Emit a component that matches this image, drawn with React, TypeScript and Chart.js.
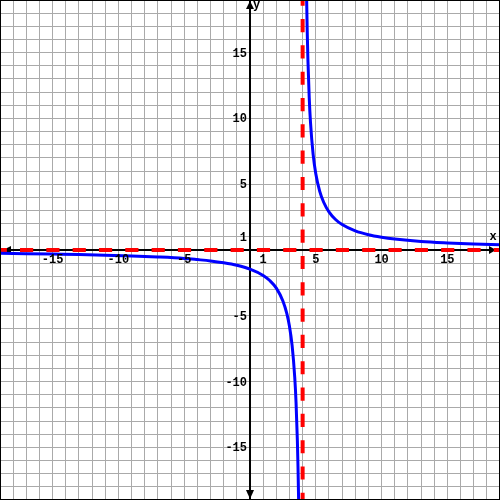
import React, { useEffect, useRef } from "react";
import { Chart, registerables } from "chart.js";

Chart.register(...registerables);

const X_MIN = -19;
const X_MAX = 19;
const Y_MIN = -19;
const Y_MAX = 19;

const leftX = [-19, -17, -15, -13, -11, -9, -7, -5, -4, -3, -2, -1, 0, 1, 1.5, 2, 2.5, 2.8, 3, 3.2, 3.4, 3.5, 3.6, 3.65, 3.7];
const leftY = [-0.25, -0.28, -0.31, -0.34, -0.39, -0.45, -0.53, -0.64, -0.73, -0.83, -0.97, -1.16, -1.45, -1.93, -2.32, -2.9, -3.87, -4.83, -5.8, -7.25, -9.67, -11.6, -14.5, -16.57, -19.33];

const rightX = [4.3, 4.35, 4.4, 4.5, 4.6, 4.8, 5, 5.3, 5.6, 6, 6.5, 7, 8, 9, 10, 11, 13, 15, 17, 19];
const rightY = [19.33, 16.57, 14.5, 11.6, 9.67, 7.25, 5.8, 4.46, 3.63, 2.9, 2.32, 1.93, 1.45, 1.16, 0.97, 0.83, 0.64, 0.53, 0.45, 0.39];

const hAsymptote = 0;
const vAsymptote = 4;

const xTickLabels = [-15, -10, -5, 1, 5, 10, 15];
const yTickLabels = [15, 10, 5, 1, -5, -10, -15];

const LABEL_FONT = 'bold 12px "Liberation Mono", "Courier New", monospace';

const decorPlugin = {
  id: "decor",
  beforeDatasetsDraw(chart: any) {
    const ctx = chart.ctx;
    const xs = chart.scales.x;
    const ys = chart.scales.y;
    const area = chart.chartArea;
    const x0 = xs.getPixelForValue(0);
    const y0 = ys.getPixelForValue(0);
    ctx.save();
    ctx.fillStyle = "#000";
    // axes
    ctx.fillRect(area.left, Math.round(y0) - 1, area.right - area.left, 2);
    ctx.fillRect(Math.round(x0) - 1, area.top, 2, area.bottom - area.top);
    // arrows
    const tri = (pts: number[][]) => {
      ctx.beginPath();
      ctx.moveTo(pts[0][0], pts[0][1]);
      ctx.lineTo(pts[1][0], pts[1][1]);
      ctx.lineTo(pts[2][0], pts[2][1]);
      ctx.closePath();
      ctx.fill();
    };
    tri([[x0, area.top + 1], [x0 - 4, area.top + 9], [x0 + 4, area.top + 9]]);
    tri([[x0, area.bottom - 1], [x0 - 4, area.bottom - 10], [x0 + 4, area.bottom - 10]]);
    tri([[area.right - 4, y0], [area.right - 11, y0 - 4], [area.right - 11, y0 + 4]]);
    tri([[area.left + 3, y0], [area.left + 11, y0 - 4], [area.left + 11, y0 + 4]]);
    ctx.restore();
  },
  afterDraw(chart: any) {
    const ctx = chart.ctx;
    const xs = chart.scales.x;
    const ys = chart.scales.y;
    const area = chart.chartArea;
    const x0 = xs.getPixelForValue(0);
    const y0 = ys.getPixelForValue(0);
    ctx.save();
    ctx.fillStyle = "#000";
    ctx.font = LABEL_FONT;
    ctx.textBaseline = "alphabetic";
    ctx.textAlign = "center";
    xTickLabels.forEach((v) => {
      ctx.fillText(String(v), xs.getPixelForValue(v), y0 + 13);
    });
    ctx.textAlign = "right";
    yTickLabels.forEach((v) => {
      ctx.fillText(String(v), x0 - 3, ys.getPixelForValue(v) + 4);
    });
    ctx.textAlign = "center";
    ctx.fillText("x", area.right - 7, y0 - 10);
    ctx.textAlign = "left";
    ctx.fillText("y", x0 + 3, area.top + 8);
    // frame
    ctx.strokeStyle = "#000";
    ctx.lineWidth = 1;
    ctx.strokeRect(area.left + 0.5, area.top + 0.5, area.right - area.left - 1, area.bottom - area.top - 1);
    ctx.restore();
  },
};

export default function App() {
  const ref = useRef<HTMLCanvasElement | null>(null);

  useEffect(() => {
    document.body.style.margin = "0";
    const canvas = ref.current;
    if (!canvas) return;
    const chart = new Chart(canvas, {
      type: "scatter",
      data: {
        datasets: [
          {
            data: leftX.map((x, i) => ({ x, y: leftY[i] })),
            showLine: true,
            borderColor: "rgb(0,0,255)",
            borderWidth: 3,
            pointRadius: 0,
            cubicInterpolationMode: "monotone",
            order: 0,
          },
          {
            data: rightX.map((x, i) => ({ x, y: rightY[i] })),
            showLine: true,
            borderColor: "rgb(0,0,255)",
            borderWidth: 3,
            pointRadius: 0,
            cubicInterpolationMode: "monotone",
            order: 0,
          },
          {
            data: [
              { x: X_MIN, y: hAsymptote },
              { x: X_MAX, y: hAsymptote },
            ],
            showLine: true,
            borderColor: "rgb(255,0,0)",
            borderWidth: 4,
            borderDash: [13.16, 13.16],
            borderDashOffset: 6.3,
            pointRadius: 0,
            order: 1,
          },
          {
            data: [
              { x: vAsymptote, y: Y_MAX },
              { x: vAsymptote, y: Y_MIN },
            ],
            showLine: true,
            borderColor: "rgb(255,0,0)",
            borderWidth: 4,
            borderDash: [13.16, 13.16],
            borderDashOffset: 7.3,
            pointRadius: 0,
            order: 1,
          },
        ],
      },
      options: {
        responsive: false,
        animation: false,
        layout: { padding: 0 },
        plugins: {
          legend: { display: false },
          tooltip: { enabled: false },
        },
        scales: {
          x: {
            type: "linear",
            min: X_MIN,
            max: X_MAX,
            ticks: { display: false, stepSize: 1 },
            grid: { color: "#aaaaaa", lineWidth: 1, drawTicks: false },
            border: { display: false },
          },
          y: {
            type: "linear",
            min: Y_MIN,
            max: Y_MAX,
            ticks: { display: false, stepSize: 1 },
            grid: { color: "#aaaaaa", lineWidth: 1, drawTicks: false },
            border: { display: false },
          },
        },
      },
      plugins: [decorPlugin],
    });
    return () => chart.destroy();
  }, []);

  return (
    <div style={{ width: 500, height: 500, background: "#fff" }}>
      <canvas ref={ref} width={500} height={500} style={{ display: "block", width: 500, height: 500 }} />
    </div>
  );
}
